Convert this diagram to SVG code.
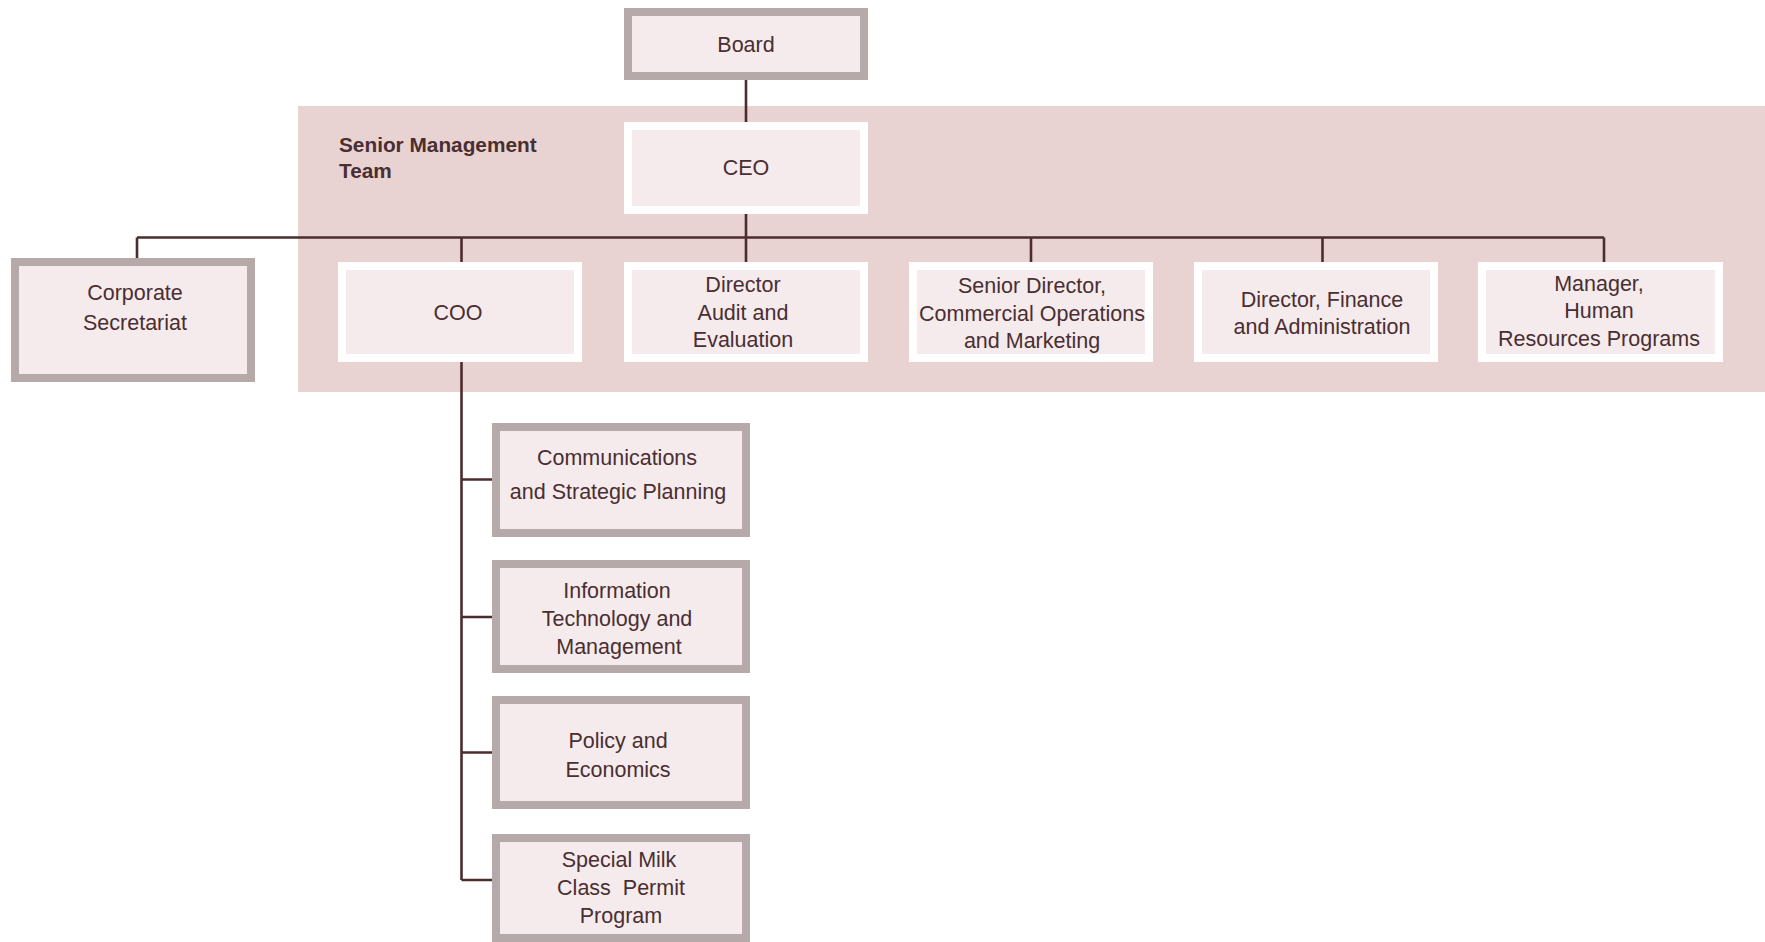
<svg xmlns="http://www.w3.org/2000/svg" width="1765" height="942" viewBox="0 0 1765 942">
<style>
.g{fill:#f5ebec;stroke:#b5aaa9;stroke-width:8}
.w{fill:#f5ebec;stroke:#ffffff;stroke-width:8}
.t{font-family:"Liberation Sans",Arial,sans-serif;font-size:21.5px;fill:#4a2e31;text-anchor:middle}
.h{font-family:"Liberation Sans",Arial,sans-serif;font-size:20.8px;font-weight:bold;fill:#4a2e31}
.c{stroke:#4b2c2f;stroke-width:2.6;fill:none}
</style>
<rect width="1765" height="942" fill="#ffffff"/>
<rect id="band" x="298" y="106" width="1467" height="286" fill="#e8d3d2"/>
<text class="h" x="339" y="152">Senior Management</text>
<text class="h" x="339" y="178">Team</text>
<g id="connectors">
<path class="c" d="M746 80V262M137 237.5H1604M137 237.5V258M461.5 237.5V262M1031 237.5V262M1322.5 237.5V262M1604 237.5V262"/>
<path class="c" d="M461.5 362V880M461.5 479.5H492M461.5 617H492M461.5 752.5H492M461.5 880H492"/>
</g>
<g id="board"><rect class="g" x="628" y="12" width="236" height="64"/><text class="t" x="746" y="52">Board</text></g>
<g id="ceo"><rect class="w" x="628" y="126" width="236" height="84"/><text class="t" x="746" y="175">CEO</text></g>
<g id="corp"><rect class="g" x="15" y="262" width="236" height="116"/><text class="t" x="135" y="300">Corporate</text><text class="t" x="135" y="330">Secretariat</text></g>
<g id="coo"><rect class="w" x="342" y="266" width="236" height="92"/><text class="t" x="458" y="320">COO</text></g>
<g id="audit"><rect class="w" x="628" y="266" width="236" height="92"/><text class="t" x="743" y="292">Director</text><text class="t" x="743" y="320">Audit and</text><text class="t" x="743" y="347">Evaluation</text></g>
<g id="commercial"><rect class="w" x="913" y="266" width="236" height="92"/><text class="t" x="1032" y="293">Senior Director,</text><text class="t" x="1032" y="321">Commercial Operations</text><text class="t" x="1032" y="348">and Marketing</text></g>
<g id="finance"><rect class="w" x="1198" y="266" width="236" height="92"/><text class="t" x="1322" y="307">Director, Finance</text><text class="t" x="1322" y="334">and Administration</text></g>
<g id="hr"><rect class="w" x="1482" y="266" width="237" height="92"/><text class="t" x="1599" y="291">Manager,</text><text class="t" x="1599" y="318">Human</text><text class="t" x="1599" y="346">Resources Programs</text></g>
<g id="comm"><rect class="g" x="496" y="427" width="250" height="106"/><text class="t" x="617" y="465">Communications</text><text class="t" x="618" y="499">and Strategic Planning</text></g>
<g id="it"><rect class="g" x="496" y="564" width="250" height="105"/><text class="t" x="617" y="598">Information</text><text class="t" x="617" y="626">Technology and</text><text class="t" x="619" y="654">Management</text></g>
<g id="policy"><rect class="g" x="496" y="700" width="250" height="105"/><text class="t" x="618" y="748">Policy and</text><text class="t" x="618" y="777">Economics</text></g>
<g id="milk"><rect class="g" x="496" y="838" width="250" height="100"/><text class="t" x="619" y="867">Special Milk</text><text class="t" x="621" y="895" xml:space="preserve" style="white-space:pre">Class  Permit</text><text class="t" x="621" y="923">Program</text></g>
</svg>
